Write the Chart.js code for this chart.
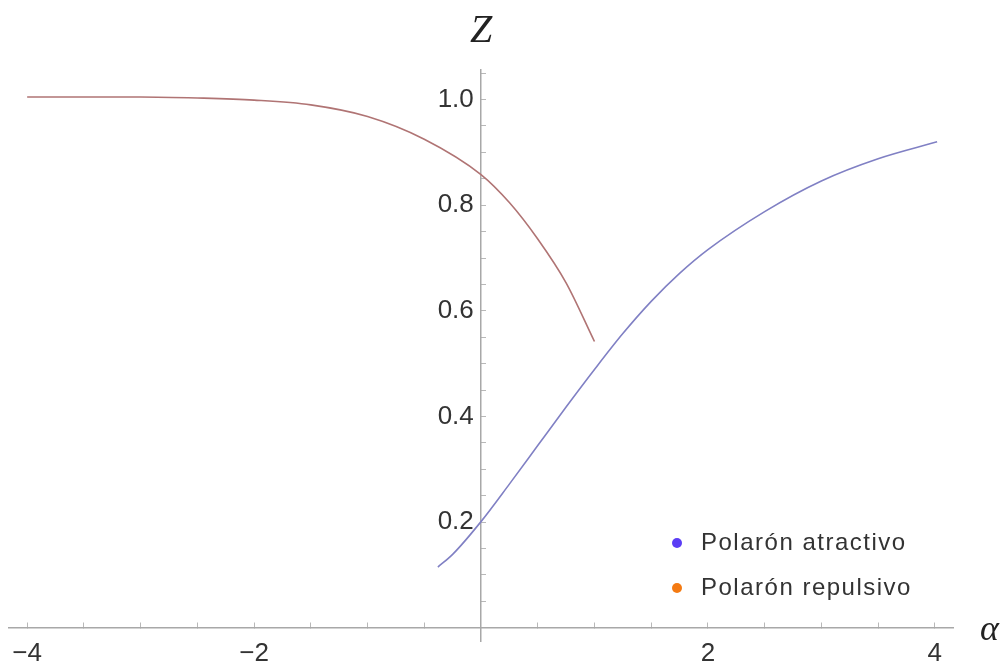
<!DOCTYPE html>
<html>
<head>
<meta charset="utf-8">
<script src="https://cdn.jsdelivr.net/npm/chart.js@4/dist/chart.umd.min.js"></script>
<style>
  body { margin: 0; background: #fff; }
  #wrap { width: 1007px; height: 664px; }
</style>
</head>
<body>
<div id="wrap"><canvas id="zChart"></canvas></div>
<script>
// values
const seriesNames = ['Polarón atractivo', 'Polarón repulsivo'];

const alphaAtr = [-0.38, -0.25, 0, 0.25, 0.5, 0.75, 1.0, 1.25, 1.5, 1.75, 2.0, 2.5, 3.0, 3.5, 4.02];
const zAtr     = [0.115, 0.139, 0.201, 0.272, 0.345, 0.418, 0.489, 0.557, 0.618, 0.671, 0.716, 0.788, 0.846, 0.888, 0.920];

const alphaRep = [-4.0, -3.0, -2.5, -2.0, -1.5, -1.0, -0.5, 0, 0.25, 0.5, 0.75, 1.0];
const zRep     = [1.005, 1.005, 1.003, 0.999, 0.990, 0.968, 0.925, 0.858, 0.805, 0.736, 0.653, 0.542];

const xTickLabels = [-4, -2, 2, 4];
const yTickLabels = [0.2, 0.4, 0.6, 0.8, 1.0];

const toPoints = (xs, ys) => xs.map((x, i) => ({ x: x, y: ys[i] }));

const near = (v, step) => Math.abs(v / step - Math.round(v / step)) < 1e-6;

// axes sit inside the plot, so they must not take any room from it
const noRoom = s => {
    if (s.isHorizontal()) s.height = 0; else s.width = 0;
    s.paddingTop = s.paddingBottom = s.paddingLeft = s.paddingRight = 0;
};

const extras = {
    id: 'extras',
    afterDraw(chart) {
        const ctx = chart.ctx;
        const xs = chart.scales.x, ys = chart.scales.y;
        ctx.save();
        // axis names
        ctx.fillStyle = '#222';
        ctx.font = 'italic 40px "Liberation Serif"';
        ctx.textAlign = 'center';
        ctx.textBaseline = 'alphabetic';
        ctx.fillText('Z', xs.getPixelForValue(0), 42);
        ctx.font = 'italic 36px "Liberation Serif"';
        ctx.textAlign = 'left';
        ctx.fillText('α', 980, ys.getPixelForValue(0) + 12);
        // legend
        const dots = ['#5b3df5', '#f47a12'];
        ctx.font = '24px "Liberation Sans"';
        ctx.letterSpacing = '1.5px';
        ctx.textBaseline = 'middle';
        chart.data.datasets.forEach((ds, i) => {
            const cy = 543 + i * 45;
            ctx.fillStyle = dots[i];
            ctx.beginPath();
            ctx.arc(677, cy, 5, 0, Math.PI * 2);
            ctx.fill();
            ctx.fillStyle = '#333';
            ctx.fillText(ds.label, 701, cy);
        });
        ctx.restore();
    }
};

new Chart(document.getElementById('zChart'), {
    type: 'scatter',
    data: {
        datasets: [{
            label: seriesNames[0],
            data: toPoints(alphaAtr, zAtr),
            showLine: true,
            borderColor: '#8080c4',
            borderWidth: 1.6,
            pointRadius: 0,
            cubicInterpolationMode: 'monotone'
        }, {
            label: seriesNames[1],
            data: toPoints(alphaRep, zRep),
            showLine: true,
            borderColor: '#b07474',
            borderWidth: 1.6,
            pointRadius: 0,
            cubicInterpolationMode: 'monotone'
        }]
    },
    options: {
        responsive: true,
        maintainAspectRatio: false,
        animation: false,
        layout: { padding: { left: 9, right: 54, top: 70, bottom: 23 } },
        plugins: { legend: { display: false }, tooltip: { enabled: false } },
        scales: {
            x: {
                type: 'linear',
                position: { y: 0 },
                min: -4.16,
                max: 4.16,
                afterFit: noRoom,
                border: { color: '#a8a8a8', width: 1.5 },
                grid: {
                    drawOnChartArea: false,
                    tickLength: -6,
                    tickColor: c => near(c.tick.value, 0.5) && c.tick.value !== 0 ? '#b8b8b8' : 'rgba(0,0,0,0)'
                },
                ticks: {
                    stepSize: 0.5,
                    includeBounds: false,
                    autoSkip: false,
                    maxRotation: 0,
                    padding: 16,
                    color: '#333',
                    font: { family: 'Liberation Sans', size: 26 },
                    callback: v => xTickLabels.includes(Math.round(v * 100) / 100) ? String(v).replace('-', '\u2212') : ''
                }
            },
            y: {
                type: 'linear',
                position: { x: 0 },
                min: -0.025,
                max: 1.056,
                afterFit: noRoom,
                border: { color: '#a8a8a8', width: 1.5 },
                grid: {
                    drawOnChartArea: false,
                    tickLength: -6,
                    tickColor: c => near(c.tick.value, 0.05) && Math.abs(c.tick.value) > 1e-6 ? '#b8b8b8' : 'rgba(0,0,0,0)'
                },
                ticks: {
                    stepSize: 0.05,
                    includeBounds: false,
                    autoSkip: false,
                    color: '#333',
                    font: { family: 'Liberation Sans', size: 26 },
                    // trailing space keeps the right-aligned label clear of the axis
                    callback: v => yTickLabels.includes(Math.round(v * 100) / 100) ? v.toFixed(1) + ' ' : ''
                }
            }
        }
    },
    plugins: [extras]
});
</script>
</body>
</html>
